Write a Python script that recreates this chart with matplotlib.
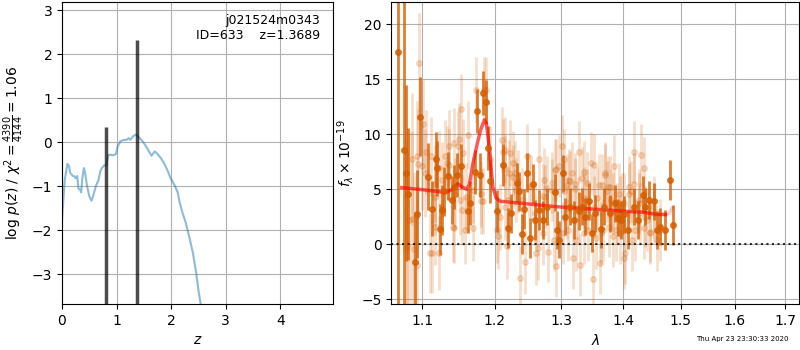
import matplotlib
matplotlib.use("Agg")
import matplotlib.pyplot as plt
from matplotlib.ticker import NullLocator, FixedLocator

# --- p(z) panel data
z_grid = [0.0, 0.05, 0.10, 0.13, 0.15, 0.20, 0.23, 0.25, 0.28, 0.30, 0.33, 0.35, 0.37, 0.40,
          0.42, 0.46, 0.50, 0.54, 0.57, 0.62, 0.67, 0.70, 0.73, 0.77, 0.81, 0.85, 0.90, 0.94,
          0.99, 1.02, 1.07, 1.13, 1.18, 1.22, 1.25, 1.30, 1.35, 1.39, 1.44, 1.50, 1.56, 1.64,
          1.70, 1.75, 1.81, 1.87, 1.93, 1.99, 2.06, 2.12, 2.16, 2.21, 2.27, 2.33, 2.40, 2.46,
          2.50, 2.54, 2.60]
logp = [-1.77, -0.86, -0.49, -0.55, -0.70, -0.77, -0.78, -0.82, -0.77, -1.05, -1.08, -1.14,
        -0.86, -0.59, -0.67, -1.00, -1.23, -1.33, -1.23, -1.00, -0.86, -0.67, -0.59, -0.53,
        -0.53, -0.29, -0.29, -0.30, -0.27, -0.10, 0.02, 0.05, 0.05, 0.09, 0.05, 0.13, 0.17,
        0.14, 0.07, -0.02, -0.14, -0.31, -0.21, -0.27, -0.36, -0.48, -0.63, -0.82, -0.97,
        -1.14, -1.39, -1.61, -1.84, -2.14, -2.52, -2.98, -3.36, -3.67, -4.20]
z_peaks = [0.80, 1.3689]
peak_heights = [0.35, 2.32]

# --- spectrum panel data (wavelength in microns, flux in 1e-19)
lam_dark = [1.0691, 1.0765, 1.0791, 1.0821, 1.0908, 1.0938, 1.0974, 1.1075, 1.1129, 1.1182,
            1.1196, 1.1240, 1.1263, 1.1299, 1.1345, 1.1399, 1.1435, 1.1468, 1.1527, 1.1629,
            1.1652, 1.1723, 1.1755, 1.1793, 1.1840, 1.1878, 1.1911, 1.1936, 1.2032, 1.2119,
            1.2201, 1.2236, 1.2324, 1.2358, 1.2398, 1.2433, 1.2482, 1.2523, 1.2563, 1.2598,
            1.2648, 1.2724, 1.2776, 1.2893, 1.2930, 1.2955, 1.3024, 1.3060, 1.3139, 1.3191,
            1.3270, 1.3324, 1.3377, 1.3441, 1.3485, 1.3527, 1.3631, 1.3674, 1.3784, 1.3867,
            1.3912, 1.3967, 1.4006, 1.4073, 1.4175, 1.4243, 1.4329, 1.4375, 1.4432, 1.4519,
            1.4579, 1.4637, 1.4725, 1.4801, 1.4862]
flux_dark = [17.45, 8.6, 6.45, 4.6, -1.6, 2.7, 11.6, 6.15, 3.2, 7.7,
             6.9, 1.36, 3.1, 4.8, 6.2, 4.0, 5.2, 6.3, 7.1, 3.06,
             3.7, 6.6, 12.1, 6.3, 13.7, 12.9, 8.7, 5.7, 3.0, 7.2,
             1.45, 2.8, 5.6, 4.8, 0.9, 3.2, 6.5, 0.55, 5.5, 2.2,
             3.1, 2.2, 3.4, 4.7, 1.3, 0.4, 6.45, 2.5, 3.4, 2.2,
             3.0, 3.4, 2.5, 3.9, 1.0, 2.8, 1.36, 3.4, 2.8, 3.7,
             2.4, 2.2, 2.7, 1.3, 3.4, 2.2, 4.5, 3.4, 4.0, 3.9,
             1.3, 1.6, 1.3, 5.85, 1.75]
err_dark = [26.0, 14.0, 8.0, 6.0, 4.5, 4.0, 3.6, 3.0, 2.5, 2.5,
            2.5, 2.3, 2.3, 2.2, 2.2, 2.2, 2.0, 2.0, 2.0, 2.0,
            2.0, 2.0, 2.0, 2.0, 2.0, 2.0, 2.0, 2.0, 1.9, 1.9,
            1.8, 1.8, 1.8, 1.8, 1.8, 1.8, 1.8, 1.8, 1.8, 1.8,
            1.8, 1.7, 1.7, 1.7, 1.7, 1.7, 1.7, 1.7, 1.7, 1.7,
            1.7, 1.7, 1.7, 1.7, 1.7, 1.7, 1.7, 1.7, 1.7, 1.7,
            1.7, 1.7, 1.7, 1.7, 1.7, 1.7, 1.7, 1.7, 1.7, 1.7,
            1.7, 1.7, 1.8, 1.8, 1.8]

lam_light = [1.0791, 1.0862, 1.0897, 1.0936, 1.0950, 1.0964, 1.1017, 1.1049, 1.1137, 1.1173,
             1.1231, 1.1308, 1.1339, 1.1366, 1.1413, 1.1490, 1.1523, 1.1559, 1.1597, 1.1629,
             1.1690, 1.1733, 1.1803, 1.1840, 1.1854, 1.1936, 1.2032, 1.2047, 1.2104, 1.2152,
             1.2177, 1.2215, 1.2274, 1.2314, 1.2373, 1.2398, 1.2448, 1.2473, 1.2512, 1.2613,
             1.2663, 1.2715, 1.2734, 1.2776, 1.2853, 1.2893, 1.2920, 1.3009, 1.3034, 1.3087,
             1.3139, 1.3181, 1.3218, 1.3281, 1.3297, 1.3361, 1.3404, 1.3469, 1.3495, 1.3522,
             1.3620, 1.3648, 1.3702, 1.3730, 1.3784, 1.3829, 1.3939, 1.4006, 1.4091, 1.4132,
             1.4175, 1.4204, 1.4261, 1.4302, 1.4346, 1.4464, 1.4519,
             # second pass, blue end
             1.0804, 1.0826, 1.0869, 1.0934, 1.1000, 1.1044, 1.1110, 1.1123, 1.1177, 1.1223,
             1.1267, 1.1358, 1.1427, 1.1449, 1.1496, 1.1518, 1.1541, 1.1587, 1.1177, 1.1427,
             # second pass, middle
             1.1694, 1.1803, 1.1883, 1.2075, 1.2123, 1.2148, 1.2157, 1.2196, 1.2221, 1.2270,
             1.2295, 1.2344, 1.2534, 1.2594, 1.2644, 1.2720, 1.2746,
             # second pass, red end
             1.2786, 1.2847, 1.2889, 1.2915, 1.2967, 1.3018, 1.3045, 1.3087, 1.3096, 1.3123,
             1.3159, 1.3213, 1.3229, 1.3254, 1.3318, 1.3350, 1.3361, 1.3405, 1.3415, 1.3522,
             1.3550, 1.3567, 1.3604, 1.3631, 1.3658, 1.3698, 1.3741, 1.3769, 1.3797, 1.3823,
             1.3852, 1.3880, 1.3896, 1.3935, 1.3952, 1.3973, 1.4006, 1.4036, 1.4091, 1.4149,
             1.4188, 1.4261, 1.4291, 1.4346, 1.4375, 1.4406, 1.4464, 1.4519, 1.4580, 1.4637]
flux_light = [-0.4, 2.3, -0.4, -1.9, 7.3, 16.5, 10.9, 8.4, -0.8, 4.3,
              6.9, 8.0, 7.4, 8.9, 1.6, 8.9, 12.3, 8.3, 4.3, 9.9,
              1.45, 14.0, 4.6, 3.9, 14.0, 7.7, 1.3, 0.7, 9.5, 8.6,
              -0.2, 6.45, 6.15, 4.9, -3.1, 4.0, -1.6, 8.0, 5.3, -0.8,
              7.7, 4.4, 5.85, 5.1, 4.9, 6.75, -2.0, 8.9, 4.8, 3.3,
              5.7, -1.3, 5.0, 8.4, -1.9, 4.2, 5.6, 7.4, -3.2, 3.4,
              -1.7, 5.4, 6.3, 4.8, 5.2, 3.7, 3.4, -1.3, 5.2, 4.8,
              8.4, 1.3, 3.7, 8.1, 6.9, 1.15, 2.8,
              -0.2, 2.2, 7.7, 8.0, 7.1, 6.45, -0.8, 8.0, 5.5, -0.8,
              5.85, 7.2, 9.2, 4.6, 9.6, 4.0, 3.1, 1.3, 1.6, 1.5,
              4.9, 3.9, 14.0, 2.5, 8.4, 6.9, 3.4, 4.0, 8.3, 7.4,
              6.45, 5.7, 5.2, 2.8, -0.36, 1.0, 4.3,
              -0.67, 5.6, 0.4, 6.8, 7.1, 1.0, 7.7, 5.4, 1.3, 5.85,
              6.45, 5.5, 0.4, 3.3, 6.0, 6.6, 1.0, 4.0, 1.3, 7.2,
              0.55, 4.2, 5.4, 1.0, 1.3, 6.45, 5.2, 1.6, 4.0, 0.7,
              7.1, 1.3, 2.8, 4.6, 1.0, 3.7, 3.7, -0.8, 4.6, 0.4,
              5.5, 4.0, 2.8, 1.45, 2.5, 2.2, 1.0, 3.4, 0.4, 1.3]
err_light = [10.0, 8.0, 7.0, 6.0, 5.0, 4.5, 4.0, 3.8, 3.6, 3.5,
             3.4, 3.3, 3.3, 3.3, 3.2, 3.2, 3.2, 3.1, 3.1, 3.1,
             3.0, 3.0, 3.0, 3.0, 3.0, 3.0, 3.0, 3.0, 3.0, 3.0,
             3.0, 3.0, 2.9, 2.9, 2.9, 2.9, 2.9, 2.9, 2.9, 2.9,
             2.9, 2.9, 2.9, 2.9, 2.8, 2.8, 2.8, 2.8, 2.8, 2.8,
             2.8, 2.8, 2.8, 2.8, 2.8, 2.8, 2.8, 2.8, 2.8, 2.8,
             2.8, 2.8, 2.8, 2.8, 2.8, 2.8, 2.8, 2.8, 2.8, 2.8,
             2.8, 2.8, 2.8, 2.8, 2.8, 2.8, 2.8,
             9.0, 8.0, 6.0, 5.0, 4.0, 4.0, 3.6, 3.6, 3.5, 3.4,
             3.4, 3.3, 3.2, 3.2, 3.2, 3.2, 3.2, 3.1, 3.5, 3.2,
             3.0, 3.0, 3.0, 3.0, 3.0, 3.0, 3.0, 3.0, 3.0, 2.9,
             2.9, 2.9, 2.9, 2.9, 2.9, 2.9, 2.9,
             2.8, 2.8, 2.8, 2.8, 2.8, 2.8, 2.8, 2.8, 2.8, 2.8,
             2.8, 2.8, 2.8, 2.8, 2.8, 2.8, 2.8, 2.8, 2.8, 2.8,
             2.8, 2.8, 2.8, 2.8, 2.8, 2.8, 2.8, 2.8, 2.8, 2.8,
             2.8, 2.8, 2.8, 2.8, 2.8, 2.8, 2.8, 2.8, 2.8, 2.8,
             2.8, 2.8, 2.8, 2.8, 2.8, 2.8, 2.8, 2.8, 2.8, 2.8]

lam_model = [1.0735, 1.1017, 1.1308, 1.1399, 1.1482, 1.1537, 1.1607, 1.1640, 1.1676, 1.1700,
             1.1755, 1.1800, 1.1854, 1.1880, 1.1897, 1.1936, 1.1974, 1.2022, 1.2080, 1.2422,
             1.2930, 1.3457, 1.4006, 1.4346, 1.4579, 1.4725]
flux_model = [5.15, 4.94, 4.7, 4.94, 5.5, 5.2, 5.0, 5.4, 6.75, 7.6,
              9.2, 10.4, 11.3, 11.0, 10.2, 8.0, 5.2, 4.2, 3.9, 3.7,
              3.4, 3.2, 3.0, 2.9, 2.7, 2.7]
lam_model_edge = [1.4725, 1.4790, 1.4844]
flux_model_edge = [2.7, 2.8, 3.3]

lam_ticks = [1.1, 1.2, 1.3, 1.4, 1.5, 1.6, 1.7]

fig = plt.figure(figsize=(8, 3.5), dpi=100)

# left: redshift probability
ax1 = fig.add_axes([0.0775, 0.131, 0.339, 0.863])
ax1.plot(z_grid, logp, color='C0', alpha=0.5, lw=1.5)
ax1.vlines(z_peaks, -5, peak_heights, color='k', alpha=0.7, lw=2.5)
ax1.set_xlim(0, 4.97)
ax1.set_ylim(-3.68, 3.18)
ax1.set_xticks([0, 1, 2, 3, 4])
ax1.set_xlabel(r'$z$')
ax1.set_ylabel(r'$\log\,p(z)$ / $\chi^2=\frac{4390}{4144}=1.06$')
ax1.text(0.95, 0.96, 'j021524m0343\nID=633    z=1.3689', transform=ax1.transAxes,
         ha='right', va='top', fontsize=9)
ax1.grid(True)

# right: spectrum
ax2 = fig.add_axes([0.489, 0.131, 0.51, 0.863])
ax2.errorbar(lam_light, flux_light, yerr=err_light, color='#d55e00', alpha=0.2,
             marker='o', ms=4, linestyle='none', elinewidth=2)
ax2.errorbar(lam_dark, flux_dark, yerr=err_dark, color='#d55e00', alpha=0.8,
             marker='o', ms=4, linestyle='none', elinewidth=2)
ax2.plot(lam_model, flux_model, color='r', alpha=0.65, lw=2.5)
ax2.plot(lam_model_edge, flux_model_edge, color='r', alpha=0.2, lw=2.5)
ax2.axhline(0, color='k', linestyle=':', lw=1.5, alpha=0.8)
ax2.set_xscale('log')
ax2.set_xlim(1.06, 1.729)
ax2.set_ylim(-5.45, 22)
ax2.xaxis.set_major_locator(FixedLocator(lam_ticks))
ax2.xaxis.set_minor_locator(NullLocator())
ax2.set_xticklabels([str(t) for t in lam_ticks])
ax2.set_yticks([-5, 0, 5, 10, 15, 20])
ax2.set_xlabel(r'$\lambda$')
ax2.set_ylabel(r'$f_\lambda\times10^{-19}$')
ax2.grid(True)

fig.text(0.928, 0.03, 'Thu Apr 23 23:30:33 2020', ha='center', va='center', fontsize=5)

plt.savefig("out.png", dpi=100)
